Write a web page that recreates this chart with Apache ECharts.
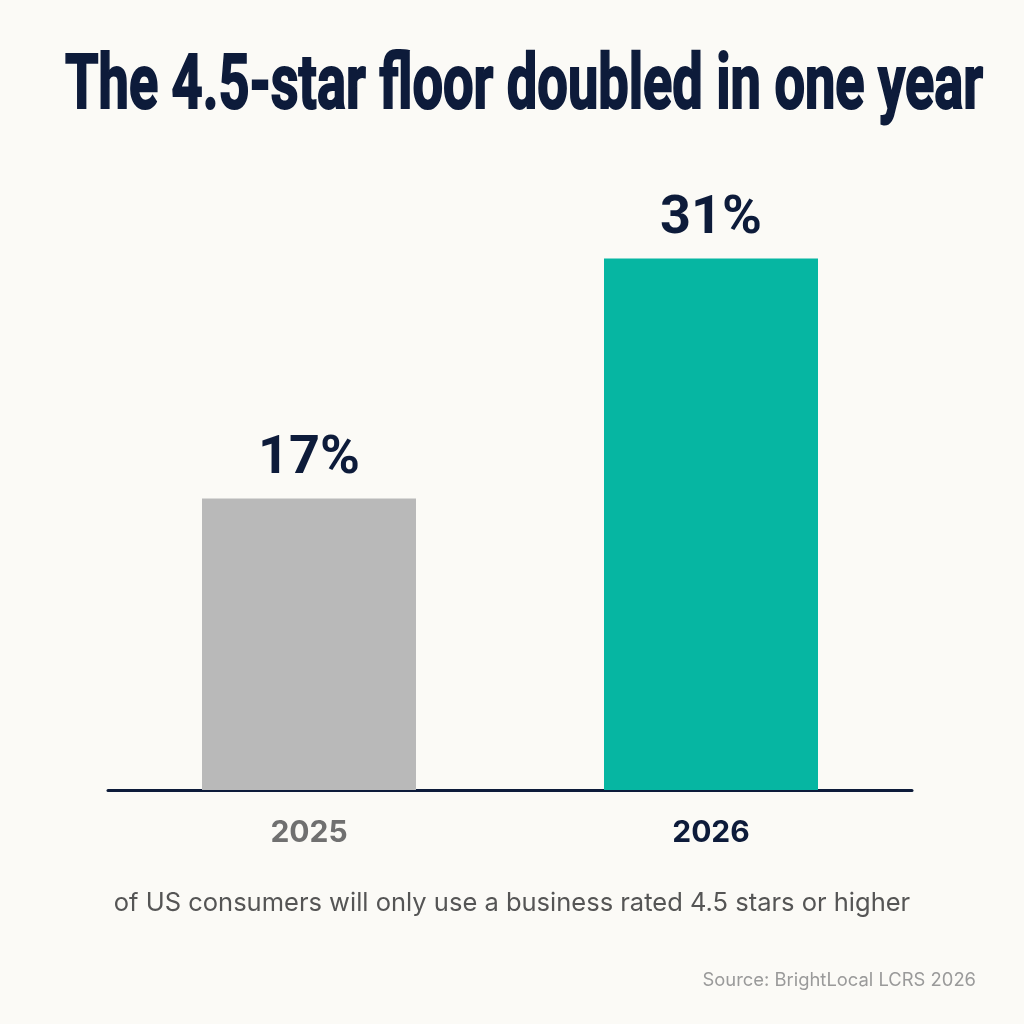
<!DOCTYPE html>
<html>
<head>
<meta charset="utf-8">
<script src="https://cdn.jsdelivr.net/npm/echarts@6/dist/echarts.min.js"></script>
<style>
    html, body { margin: 0; padding: 0; background: #fbfaf6; }
    #chart { width: 1024px; height: 1024px; }
</style>
</head>
<body>
<div id="chart"></div>
<script>
// data
const years = ['2025', '2026'];
const shares = [17, 31];
const barColors = ['#b9b9b9', '#06b6a2'];
const yearColors = ['#707070', '#0d1b3a'];

const titleText = 'The 4.5-star floor doubled in one year';
const titleFont = 'bold 76px Roboto';

window.onload = function () {
    let chart = echarts.init(document.querySelector('#chart'));
    let navy = '#0d1b3a';

    // squeeze the title to the width it has in the picture (~920px)
    let ctx = document.createElement('canvas').getContext('2d');
    ctx.font = titleFont;
    let titleScale = 918 / ctx.measureText(titleText).width;

    let option = {
        backgroundColor: '#fbfaf6',
        animation: false,
        graphic: [
            {
                type: 'text',
                x: 524,
                y: 89,
                scaleX: titleScale,
                style: {
                    text: titleText,
                    font: titleFont,
                    align: 'center',
                    verticalAlign: 'middle',
                    fill: navy,
                    stroke: navy,
                    lineWidth: 2
                }
            },
            {
                type: 'text',
                left: 'center',
                top: 890,
                style: {
                    text: 'of US consumers will only use a business rated 4.5 stars or higher',
                    fontFamily: 'Inter',
                    fontSize: 25.5,
                    fill: '#555555'
                }
            },
            {
                type: 'text',
                right: 48,
                top: 971,
                style: {
                    text: 'Source: BrightLocal LCRS 2026',
                    fontFamily: 'Inter',
                    fontSize: 18.4,
                    fill: '#9a9a9a'
                }
            }
        ],
        grid: {
            left: 108,
            right: 112,
            top: 190,
            bottom: 234
        },
        xAxis: {
            type: 'category',
            data: years,
            axisTick: { show: false },
            axisLine: { lineStyle: { color: navy, width: 3 } },
            axisLabel: {
                margin: 28,
                fontFamily: 'Inter',
                fontWeight: 'bold',
                fontSize: 30,
                color: function (value, index) {
                    return yearColors[index];
                }
            }
        },
        yAxis: {
            type: 'value',
            min: 0,
            max: 35,
            show: false
        },
        series: [
            {
                type: 'bar',
                barWidth: 214,
                data: shares.map(function (v, i) {
                    return { value: v, itemStyle: { color: barColors[i] } };
                }),
                label: {
                    show: true,
                    position: 'top',
                    distance: 12,
                    formatter: '{c}%',
                    fontFamily: 'Roboto',
                    fontWeight: 'bold',
                    fontSize: 54,
                    color: navy
                }
            }
        ]
    };

    chart.setOption(option);
}
</script>
</body>
</html>
